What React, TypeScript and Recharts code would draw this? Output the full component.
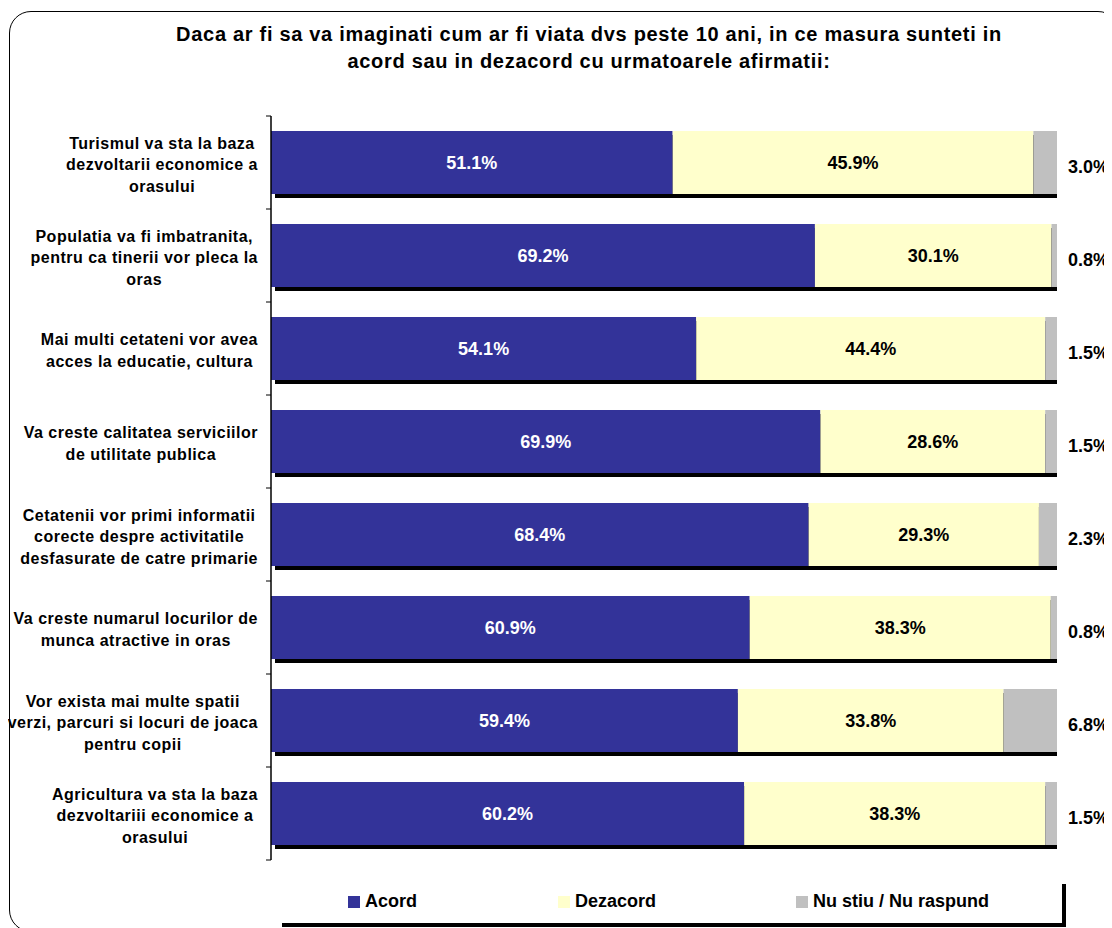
import React from "react";
import { BarChart, Bar, XAxis, YAxis, LabelList } from "recharts";

const categories = [
  "Turismul va sta la baza\ndezvoltarii economice a\norasului",
  "Populatia va fi imbatranita,\npentru ca tinerii vor pleca la\noras",
  "Mai multi cetateni vor avea\nacces la educatie, cultura",
  "Va creste calitatea serviciilor\nde utilitate publica",
  "Cetatenii vor primi informatii\ncorecte despre activitatile\ndesfasurate de catre primarie",
  "Va creste numarul locurilor de\nmunca atractive in oras",
  "Vor exista mai multe spatii\nverzi, parcuri si locuri de joaca\npentru copii",
  "Agricultura va sta la baza\ndezvoltariii economice a\norasului",
];
const acord = [51.1, 69.2, 54.1, 69.9, 68.4, 60.9, 59.4, 60.2];
const dezacord = [45.9, 30.1, 44.4, 28.6, 29.3, 38.3, 33.8, 38.3];
const nustiu = [3.0, 0.8, 1.5, 1.5, 2.3, 0.8, 6.8, 1.5];

const seriesNames = ["Acord", "Dezacord", "Nu stiu / Nu raspund"];
const seriesColors = ["#333399", "#FFFFCC", "#C0C0C0"];
const titleLines = [
  "Daca ar fi sa va imaginati cum ar fi viata dvs peste 10 ani, in ce masura sunteti in",
  "acord sau in dezacord cu urmatoarele afirmatii:",
];

const data = categories.map((c, i) => ({
  name: c,
  acord: acord[i],
  dezacord: dezacord[i],
  nustiu: nustiu[i],
}));

const FONT = "'Liberation Sans', Arial, Helvetica, sans-serif";
const W = 1104;
const H = 920;
const M = { top: 108, right: 55, bottom: 68, left: 0 };
const YW = 263;
const PLOT_H = H - M.top - M.bottom;
const TICK_SIZE = 6;
const TICK_MARGIN = 7;
const CAT_FS = 16;
const CAT_LS = 0.5;

let ctx: any = null;
function measure(text: string, size: number, ls: number) {
  if (!ctx) {
    const c = document.createElement("canvas");
    ctx = c.getContext("2d");
  }
  if (!ctx) return text.length * size * 0.55;
  ctx.font = `bold ${size}px 'Liberation Sans', Arial, sans-serif`;
  return ctx.measureText(text).width + ls * text.length;
}

const CategoryTick = (props: any) => {
  const { x, y, payload, index } = props;
  const lines = String(payload.value).split("\n");
  const Wmax = Math.max(...lines.map((l) => measure(l, CAT_FS, CAT_LS)));
  const right = x;
  const cx = right - Wmax / 2;
  const lh = 21.5;
  const startY = y - ((lines.length - 1) * lh) / 2 + 2;
  const axisX = x + TICK_SIZE + TICK_MARGIN;
  const band = PLOT_H / categories.length;
  return (
    <g>
      <line x1={axisX - 5} x2={axisX} y1={y - band / 2} y2={y - band / 2} stroke="#000" strokeWidth={1} />
      {index === categories.length - 1 && (
        <line x1={axisX - 5} x2={axisX} y1={y + band / 2} y2={y + band / 2} stroke="#000" strokeWidth={1} />
      )}
      <text
        textAnchor="middle"
        fontFamily={FONT}
        fontWeight="bold"
        fontSize={CAT_FS}
        letterSpacing={CAT_LS}
        fill="#000"
      >
        {lines.map((l, i) => (
          <tspan key={i} x={cx} y={startY + i * lh} dy="0.355em">
            {l}
          </tspan>
        ))}
      </text>
    </g>
  );
};

const ShadowBar = (props: any) => {
  const { x, y, width, height, fill, payload } = props;
  const total = payload.acord + payload.dezacord + payload.nustiu;
  const full = (width * total) / payload.acord;
  return (
    <g>
      <rect x={x + 4} y={y + 4} width={full} height={height} fill="#000" />
      <rect x={x} y={y} width={width} height={height} fill={fill} />
    </g>
  );
};

const centerLabel = (color: string) => (props: any) => {
  const { x, y, width, height, value } = props;
  return (
    <text
      x={x + width / 2}
      y={y + height / 2}
      dy="0.355em"
      textAnchor="middle"
      fill={color}
      fontFamily={FONT}
      fontWeight="bold"
      fontSize={18}
    >
      {Number(value).toFixed(1)}%
    </text>
  );
};

const outsideLabel = (props: any) => {
  const { x, y, width, height, value } = props;
  return (
    <text
      x={x + width + 11}
      y={y + height / 2 + 4}
      dy="0.355em"
      textAnchor="start"
      fill="#000"
      fontFamily={FONT}
      fontWeight="bold"
      fontSize={18}
    >
      {Number(value).toFixed(1)}%
    </text>
  );
};

const legendOffsets = [70, 280, 518];

export default function App() {
  return (
    <div style={{ position: "relative", width: W, height: H, overflow: "hidden", background: "#fff", fontFamily: FONT }}>
      <div
        style={{
          position: "absolute",
          left: 1,
          top: 3,
          width: 1111,
          height: 921,
          border: "1.5px solid #000",
          borderRadius: 22,
          boxSizing: "border-box",
        }}
      />
      <div
        style={{
          position: "absolute",
          left: 81,
          top: 13,
          width: 1000,
          textAlign: "center",
          fontWeight: "bold",
          fontSize: 20,
          letterSpacing: 0.7,
          lineHeight: "27px",
          color: "#000",
          whiteSpace: "nowrap",
        }}
      >
        {titleLines[0]}
        <br />
        {titleLines[1]}
      </div>
      <div style={{ position: "absolute", left: 0, top: 0 }}>
        <BarChart width={W} height={H} data={data} layout="vertical" margin={M} barSize={63}>
          <XAxis type="number" domain={[0, 100]} allowDataOverflow hide />
          <YAxis
            type="category"
            dataKey="name"
            width={YW}
            tickLine={false}
            tickSize={TICK_SIZE}
            tickMargin={TICK_MARGIN}
            axisLine={{ stroke: "#000", strokeWidth: 1.5 }}
            tick={<CategoryTick />}
            interval={0}
          />
          <Bar dataKey="acord" stackId="s" fill={seriesColors[0]} shape={<ShadowBar />} isAnimationActive={false}>
            <LabelList dataKey="acord" content={centerLabel("#fff")} />
          </Bar>
          <Bar dataKey="dezacord" stackId="s" fill={seriesColors[1]} isAnimationActive={false}>
            <LabelList dataKey="dezacord" content={centerLabel("#000")} />
          </Bar>
          <Bar dataKey="nustiu" stackId="s" fill={seriesColors[2]} isAnimationActive={false}>
            <LabelList dataKey="nustiu" content={outsideLabel} />
          </Bar>
        </BarChart>
      </div>
      <div
        style={{
          position: "absolute",
          left: 270,
          top: 872,
          width: 784,
          height: 43,
          background: "#fff",
          boxShadow: "4px 4px 0 #000",
        }}
      >
        {seriesNames.map((n, i) => (
          <div key={n} style={{ position: "absolute", left: legendOffsets[i], top: 0, height: 43, display: "flex", alignItems: "center" }}>
            <span style={{ display: "inline-block", width: 12, height: 12, background: seriesColors[i], marginRight: 5 }} />
            <span style={{ fontWeight: "bold", fontSize: 18, color: "#000" }}>{n}</span>
          </div>
        ))}
      </div>
    </div>
  );
}
